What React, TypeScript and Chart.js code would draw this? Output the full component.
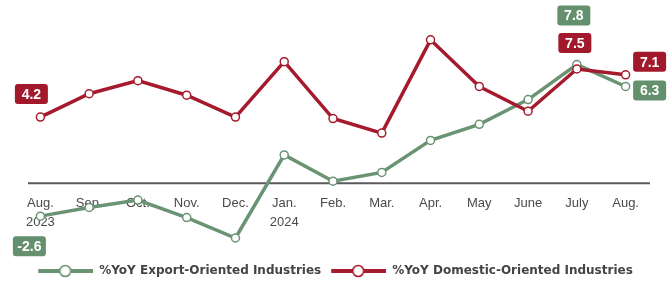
import React, { useEffect, useRef } from "react";
import { Chart, registerables } from "chart.js";

Chart.register(...registerables);

const categories: (string | string[])[] = [
  ["Aug.", "2023"], "Sep.", "Oct.", "Nov.", "Dec.", ["Jan.", "2024"], "Feb.", "Mar.", "Apr.", "May", "June", "July", "Aug.",
];
const exportOriented = [-2.6, -2.0, -1.5, -2.7, -4.1, 1.6, -0.2, 0.4, 2.6, 3.7, 5.4, 7.8, 6.3];
const domesticOriented = [4.2, 5.8, 6.7, 5.7, 4.2, 8.0, 4.1, 3.1, 9.5, 6.3, 4.6, 7.5, 7.1];
const seriesNames = ["%YoY Export-Oriented Industries", "%YoY Domestic-Oriented Industries"];
const AXIS_AT = -0.35;
const Y_MIN = -5.61;
const Y_MAX = 11;

const GREEN = "#6a9373";
const RED = "#a51a2c";
const GREEN_BOX = "#64906d";
const RED_BOX = "#a2192b";

function legendIcon(color: string): HTMLCanvasElement {
  const c = document.createElement("canvas");
  c.width = 60;
  c.height = 14;
  const ctx = c.getContext("2d")!;
  ctx.strokeStyle = color;
  ctx.lineWidth = 4;
  ctx.beginPath();
  ctx.moveTo(5, 7);
  ctx.lineTo(60, 7);
  ctx.stroke();
  ctx.beginPath();
  ctx.arc(32, 7, 5.5, 0, Math.PI * 2);
  ctx.fillStyle = "#fff";
  ctx.fill();
  ctx.lineWidth = 1.6;
  ctx.stroke();
  return c;
}

const valueLabels = [
  { ds: 1, i: 0, dx: -9, dy: -23, color: RED_BOX },
  { ds: 0, i: 0, dx: -11, dy: 30, color: GREEN_BOX },
  { ds: 0, i: 11, dx: -3, dy: -49, color: GREEN_BOX },
  { ds: 1, i: 11, dx: -2, dy: -26, color: RED_BOX },
  { ds: 1, i: 12, dx: 24, dy: -13, color: RED_BOX },
  { ds: 0, i: 12, dx: 24, dy: 4, color: GREEN_BOX },
];

const axisLinePlugin = {
  id: "axisLine",
  beforeDatasetsDraw(chart: any) {
    const y = chart.scales.y.getPixelForValue(AXIS_AT);
    const ctx = chart.ctx;
    ctx.save();
    ctx.strokeStyle = "#5a5a5a";
    ctx.lineWidth = 2;
    ctx.beginPath();
    ctx.moveTo(28, y);
    ctx.lineTo(chart.chartArea.right, y);
    ctx.stroke();
    ctx.restore();
  },
};

const labelPlugin = {
  id: "valueLabels",
  afterDatasetsDraw(chart: any) {
    const ctx = chart.ctx;
    ctx.save();
    ctx.font = "bold 14px 'Liberation Sans', Arial, sans-serif";
    ctx.textAlign = "center";
    ctx.textBaseline = "middle";
    for (const l of valueLabels) {
      const pt = chart.getDatasetMeta(l.ds).data[l.i];
      const v = chart.data.datasets[l.ds].data[l.i] as number;
      const cx = pt.x + l.dx;
      const cy = pt.y + l.dy;
      const w = 33, h = 20;
      ctx.fillStyle = l.color;
      ctx.beginPath();
      (ctx as any).roundRect(cx - w / 2, cy - h / 2, w, h, 3);
      ctx.fill();
      ctx.fillStyle = "#fff";
      ctx.fillText(v.toFixed(1), cx, cy + 1);
    }
    ctx.restore();
  },
};

export default function App() {
  const ref = useRef<HTMLCanvasElement>(null);
  useEffect(() => {
    document.body.style.margin = "0";
    const chart = new Chart(ref.current!, {
      type: "line",
      data: {
        labels: categories as any,
        datasets: [
          {
            label: seriesNames[0],
            data: exportOriented,
            borderColor: GREEN,
            backgroundColor: "#fff",
            borderWidth: 3.5,
            pointRadius: 4,
            pointBorderWidth: 1.5,
            pointBackgroundColor: "#fff",
            pointBorderColor: GREEN,
            order: 1,
          },
          {
            label: seriesNames[1],
            data: domesticOriented,
            borderColor: RED,
            backgroundColor: "#fff",
            borderWidth: 3.5,
            pointRadius: 4,
            pointBorderWidth: 1.5,
            pointBackgroundColor: "#fff",
            pointBorderColor: RED,
            order: 0,
          },
        ],
      },
      options: {
        animation: false,
        responsive: false,
        layout: { padding: { left: 16, right: 18, top: 18, bottom: -4 } },
        scales: {
          x: {
            offset: true,
            position: { y: AXIS_AT } as any,
            grid: { display: false, drawTicks: false },
            border: { display: false },
            ticks: {
              color: "#4a4a4a",
              padding: 11,
              maxRotation: 0,
              autoSkip: false,
              font: { family: "'Liberation Sans', Arial, sans-serif", size: 13, lineHeight: 1.45 },
            },
          },
          y: {
            display: false,
            min: Y_MIN,
            max: Y_MAX,
          },
        },
        plugins: {
          tooltip: { enabled: false },
          legend: {
            position: "bottom",
            labels: {
              usePointStyle: true,
              pointStyleWidth: 60,
              padding: 5,
              color: "#444",
              font: { family: "'DejaVu Sans', sans-serif", size: 12, weight: "bold" },
              sort: (a: any, b: any) => a.datasetIndex - b.datasetIndex,
              generateLabels: (chart: any) =>
                chart.data.datasets.map((d: any, i: number) => ({
                  text: d.label,
                  datasetIndex: i,
                  pointStyle: legendIcon(d.borderColor),
                  fontColor: "#444",
                  hidden: false,
                  lineWidth: 0,
                  strokeStyle: "transparent",
                  fillStyle: "transparent",
                })),
            },
          },
        },
      },
      plugins: [axisLinePlugin, labelPlugin],
    });
    return () => chart.destroy();
  }, []);
  return <canvas ref={ref} width={668} height={283} style={{ display: "block" }} />;
}
